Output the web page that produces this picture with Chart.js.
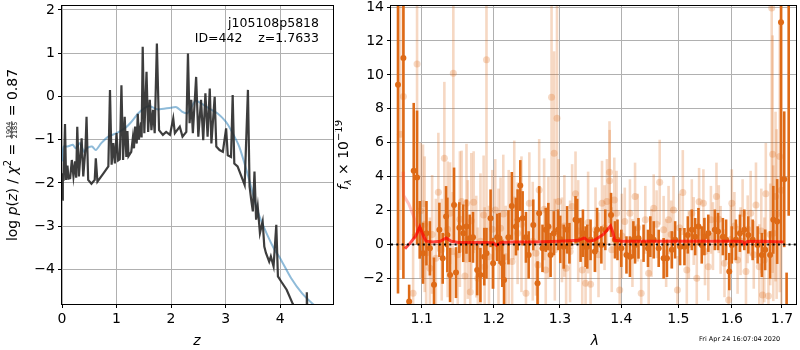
<!DOCTYPE html>
<html>
<head>
<meta charset="utf-8">
<script src="https://cdn.jsdelivr.net/npm/chart.js@4.4.1/dist/chart.umd.min.js"></script>
<style>
  body { margin: 0; background: #fff; }
  #wrap { position: relative; width: 800px; height: 350px; }
  .panel { position: absolute; top: 0; }
</style>
</head>
<body>
<div id="wrap">
  <canvas id="pz" class="panel" style="left:0" width="340" height="350"></canvas>
  <canvas id="spec" class="panel" style="left:335px" width="465" height="350"></canvas>
</div>
<script>
// ---- p(z) panel data ----
const zLine = [0.005,0.015,0.03,0.055,0.075,0.1,0.12,0.15,0.18,0.21,0.24,0.26,0.28,0.31,
  0.36,0.39,0.43,0.45,0.48,0.54,0.6,0.62,0.65,0.76,0.85,
  0.88,0.91,0.94,0.97,1.0,1.03,1.06,1.09,1.12,1.15, 1.18,1.2,1.22,1.27,1.3,1.32,1.34,1.37,1.39,1.41,1.45,1.46,1.48,1.51,1.55,1.58,1.61,
  1.64,1.67,1.7,1.74,1.78,1.85,1.91,1.98,2.04,2.07, 2.16,2.21,2.28,2.31,2.34,2.37,2.4,2.46,2.5,2.55,
  2.59,2.63,2.67,2.71,2.74,2.8,2.83,2.89,2.95,3.01, 3.04,3.1,3.13,3.16,3.22,3.29,3.35,3.41,3.44,3.47,
  3.5,3.53,3.56,3.59,3.63,3.68,3.71,3.74,3.8,3.83, 3.88,3.93,3.96,4.02,4.12,4.23,4.35,4.48,4.49,4.51, 4.7];
const logPz = [-2.39,-1.78,-1.95,-0.64,-1.93,-1.6,-1.9,-1.89,-1.47,-1.85,-1.5,-1.88,-0.7,-1.85,
  -0.97,-1.85,-1.2,-0.47,-1.93,-2.02,-1.93,-1.43,-1.97,-1.78,-1.62,
  0.15,-1.58,-1.08,-1.55,-0.85,-1.48,-1.45,0.26,-1.47,-0.47, -1.4,-0.8,-1.38,-1.28,-0.95,-1.2,-0.7,-1.09,-0.4,-1.0,-0.6,-0.95,1.15,-0.85,0.57,-0.82,-0.08,
  -0.78,-0.31,-0.85,1.22,-0.78,-0.89,-0.82,-0.89,-0.51,-0.85, -0.7,-0.93,-0.82,0.99,-0.62,-0.08,-0.85,0.45,-0.93,-0.08,
  -1.01,0.07,-0.93,0.18,-1.09,-0.01,-1.16,-1.24,-1.28,-0.74, -1.36,-1.4,0.03,-1.55,-1.62,-1.85,-2.05,0.15,-2.08,-2.39,
  -2.66,-1.74,-2.85,-2.55,-3.16,-2.89,-3.47,-3.62,-3.82,-3.7, -3.93,-2.97,-4.16,-4.28,-4.47,-4.79,-5.1,-5.4,-4.53,-5.5, -6.0];
const zSmooth = [0,0.03,0.1,0.2,0.25,0.33,0.4,0.45,0.55,0.62, 0.72,0.85,1.0,1.15,1.25,1.4,1.5,1.6,1.75,2.0,
  2.1,2.2,2.3,2.35,2.45,2.55,2.7,2.85,3.0,3.1, 3.25,3.4,3.5,3.6,3.75,3.9,4.0,4.2,4.4,4.6, 4.8];
const logPzSmooth = [-1.5,-1.16,-1.16,-1.12,-1.2,-1.08,-1.28,-1.2,-1.16,-1.24, -1.08,-0.93,-0.85,-0.74,-0.62,-0.39,-0.28,-0.22,-0.3,-0.26,
  -0.25,-0.35,-0.39,-0.3,-0.1,-0.16,-0.28,-0.39,-0.58,-0.78, -1.16,-1.78,-2.24,-2.7,-3.16,-3.55,-3.74,-4.2,-4.55,-4.8, -5.0];
const zTicks = [0, 1, 2, 3, 4];
const pzTicks = [-4, -3, -2, -1, 0, 1, 2];

// ---- spectrum panel data ----
const darkWl = [1.069,1.076,1.0835,1.0895,1.0939,1.0974,1.1018,1.1064,1.111,1.1165,
  1.1238,1.1283,1.1329,1.1347,1.1384,1.1439,1.1466,1.1512,1.1567,1.1612,
  1.1658,1.1704,1.1763,1.1809,1.1864,1.1896,1.1955,1.1992,1.205,1.2085,
  1.2126,1.2151,1.2216,1.2266,1.2327,1.2352,1.2392,1.2427,1.2477,1.2518,
  1.2588,1.2653,1.2678,1.2729,1.2779,1.2819,1.2854,1.2904,1.297,1.3005,
  1.3059,1.3113,1.315,1.3247,1.3274,1.3328,1.3366,1.3409,1.3436,1.349,
  1.356,1.3597,1.3667,1.3732,1.3828,1.3893,1.3936,1.40,1.4088,1.4147,
  1.4206,1.4235,1.4294,1.4382,1.4459,1.45,1.4559,1.4647,1.4735,1.4794,
  1.4882,1.4941,1.5031,1.511,1.5172,1.5245,1.5307,1.5368,1.5429,1.5478,
  1.5552,1.5675,1.5736,1.5828,1.589,1.5951,1.60,1.6079,1.6158,1.6243,
  1.6322,1.6408,1.6507,1.6592,1.6658,1.6757,1.6822,1.6901,1.698,1.7046,
  1.7095,1.7138];
const darkFlux = [9.42,10.99,-3.36,4.35,3.95,0.87,-0.51,0.67,-0.22,-2.36,
  0.87,-0.81,1.65,0.57,-1.79,2.34,-1.65,1.0,0.67,1.06,
  0.37,0.43,-1.49,-1.79,-0.71,-0.51,1.55,-1.1,0.43,0.37,
  -1.1,-2.08,0.43,2.28,1.06,1.46,3.48,1.55,0.43,-0.61,
  1.16,-2.28,1.85,-0.22,0.87,1.06,-0.61,0.67,0.87,0.31,
  -0.12,0.87,0.08,1.46,1.4,0.28,0.67,-0.12,-0.12,0.28,
  -0.41,0.87,-0.02,0.87,1.75,0.28,0.28,-0.22,-0.61,-0.71,
  0.28,-0.02,0.37,0.08,-0.22,0.47,0.28,-0.22,-0.81,-0.81,
  -0.31,0.28,-0.12,-0.12,0.57,0.87,0.47,1.06,-0.02,0.47,
  0.67,0.87,0.77,0.47,0.28,-1.59,-0.02,0.28,0.67,0.87,
  0.57,0.28,-0.02,-0.61,-0.31,-0.61,1.46,1.36,13.1,3.85,
  -4.5,16];
const darkErr = [12.3,13,1.0,4.0,3.95,1.7,1.8,1.9,1.6,1.6,
  1.6,1.5,1.8,2.2,1.6,2.2,1.5,1.5,1.7,1.6,
  1.4,1.5,1.5,1.6,1.7,1.5,1.7,1.5,1.4,1.5,
  1.4,1.5,1.6,2.0,1.7,1.8,1.5,1.6,1.5,1.4,
  1.5,1.3,1.6,1.4,1.3,1.4,1.3,1.3,1.2,1.4,
  1.3,1.4,1.2,1.4,1.3,1.3,1.4,1.2,1.3,1.2,
  1.2,1.3,1.1,1.2,1.3,1.1,1.2,1.1,1.1,1.2,
  1.1,1.1,1.2,1.1,1.1,1.2,1.1,1.1,1.2,1.1,
  1.1,1.1,1.1,1.1,1.1,1.2,1.1,1.1,1.1,1.1,
  1.1,1.2,1.1,1.1,1.2,1.1,1.1,1.2,1.1,1.2,
  1.1,1.2,1.1,1.3,1.2,1.4,2.0,2.5,13,4.0,
  2.85,14.3];

const lightWl = [1.072,1.076,1.0887,1.0939,1.0985,1.1018,1.106,1.111,1.1224,1.127,
  1.1306,1.1384,1.1429,1.149,1.1544,1.159,1.1612,1.1665,1.1713,1.175,
  1.1772,1.1855,1.1896,1.1932,1.2023,1.21,1.2176,1.2302,1.2352,1.2477,
  1.2528,1.2628,1.2678,1.2754,1.2779,1.2869,1.2909,1.2954,1.2979,1.3032,
  1.3097,1.3193,1.3247,1.3355,1.3409,1.349,1.3571,1.3678,1.3759,1.3802,
  1.3805,1.3882,1.392,1.3973,1.4059,1.4147,1.4235,1.4341,1.4412,1.4471,
  1.4559,1.4665,1.4735,1.4823,1.4912,1.4982,1.508,1.5153,1.5245,1.5337,
  1.538,1.546,1.5552,1.5601,1.5706,1.5785,1.5859,1.5939,1.60,1.6112,
  1.621,1.6276,1.6368,1.6474,1.654,1.6605,1.6671,1.6724,1.679,1.6809,
  1.6822,1.6868,1.6954,1.6985,
  1.104,1.114,1.119,1.135,1.142,1.152,1.163,1.168,1.181,1.187,
  1.198,1.207,1.214,1.222,1.227,1.241,1.258,1.266,1.282,1.292,
  1.307,1.316,1.329,1.345,1.362,1.372,1.384,1.401,1.419,1.428,
  1.452,1.461,1.478,1.487,1.502,1.519,1.528,1.549,1.564,1.575,
  1.598,1.605,1.617,1.631,1.643,1.658,1.664,1.676,1.689];
const lightFlux = [6.5,8.73,-2.87,10.64,2.0,2.4,-0.5,-1.4,3.09,-0.3,
  5.09,1.85,10.1,-0.6,2.54,-1.85,2.44,-2.8,2.5,-0.12,
  -1.99,1.75,10.9,-0.71,2.04,0.96,-0.71,2.63,0.67,-2.87,
  2.44,-0.51,3.22,2.08,-1.49,8.69,5.39,7.45,2.54,0.28,
  -1.4,2.24,2.99,-1.49,-2.28,-2.34,0.87,2.44,2.54,4.27,
  3.76,2.63,1.85,-2.67,1.36,1.85,2.83,-2.87,1.46,-1.69,
  2.14,3.68,0.87,1.46,2.04,-2.67,3.07,-1.49,1.85,-1.99,
  2.52,2.44,-1.3,1.46,2.83,0.28,-1.1,-3.26,2.44,-0.9,
  1.85,-1.59,1.85,2.34,-1.3,-2.97,2.99,-3.03,13.94,5.33,
  0.67,2.83,5.19,3.2,
  1.2,0.6,-0.8,0.9,-0.4,1.5,0.3,1.4,0.2,-1.3,
  0.9,-0.2,1.8,0.4,-1.0,1.2,0.2,-1.2,1.0,-0.3,
  1.1,-0.4,0.8,1.3,-0.6,1.0,-0.3,0.5,-0.5,1.0,
  0.1,1.2,-0.5,0.6,1.0,0.0,0.8,-0.4,0.5,1.5,
  0.3,1.1,0.2,0.9,-0.6,0.8,-0.9,0.6,1.8];
const lightErr = [8,9,3.5,9,4,3.5,3,3,3.5,3,
  4.5,3,10,3,3,3,3.5,3,3,3,
  3,3.5,10,3,3,3,3,3.5,3,3,
  3,2.5,3,3,2.5,9,6,7,2.5,2.5,
  2.5,2.5,2.5,2.5,2.5,2.5,2.5,2.5,2.5,3,
  3,2.5,2.5,2.5,2,2,2,2,2,2,
  2,2.5,2,2,2,2,2.5,2,2,2,
  2,2,2,2,2,2,2,2,2,2,
  2,2,2.5,2.5,2.5,2.5,3,3,14,7,
  4,5,8,11,
  4,3.5,3.5,4,3.5,4,3.5,4,4,3.5,
  3.5,3.5,3.5,4,3.5,4,3.5,3,3,3,
  3,3,3,3,2.5,2.5,2.5,2.5,2,2,
  2,2,2,2,2,2,2,2,2,2,
  2,2,2,2,2,2.5,2.5,3,5];

const modelWl = [1.078,1.085,1.092,1.0975,1.102,1.106,1.115,1.125,1.133,1.14,
  1.15,1.17,1.19,1.2,1.204,1.21,1.23,1.26,1.3,1.33,
  1.339,1.345,1.355,1.37,1.382,1.386,1.389,1.4,1.45,1.5,
  1.55,1.6,1.62,1.625,1.63,1.66,1.703];
const modelFlux = [-0.25,0.1,0.5,1.05,0.55,0.2,0.15,0.2,0.39,0.2,
  0.12,0.12,0.12,0.1,-0.05,0.12,0.15,0.15,0.2,0.25,
  0.39,0.2,0.25,0.6,1.1,0.7,0.25,0.2,0.2,0.2,
  0.2,0.2,0.18,0.05,0.18,0.2,0.15];
const pinkWl = [1.0755,1.0762,1.083,1.09,1.095,1.1,1.105];
const pinkFlux = [4.3,2.9,2.4,1.6,0.9,0.4,0.2];
const zeroWl = [1.06, 1.729];
const wlTicks = [1.1, 1.2, 1.3, 1.4, 1.5, 1.6, 1.7];
const fluxTicks = [-2, 0, 2, 4, 6, 8, 10, 12, 14];

// ---- shared styling ----
const FONT = "'DejaVu Sans', sans-serif";
const GRID = '#b0b0b0';
const ORANGE = 'rgb(222,106,22)';
const ORANGE_LIGHT = 'rgba(222,106,22,0.26)';

function minus(v) {
  return String(v).replace('-', '\u2212');
}

function pts(xs, ys) {
  return xs.map((x, i) => ({ x: x, y: ys[i] }));
}

function makeScale(type, min, max, tickList, fmt, fit) {
  return {
    type: type,
    min: min,
    max: max,
    afterBuildTicks: s => { s.ticks = tickList.map(v => ({ value: v })); },
    afterFit: s => {
      fit(s);
      // keep the plot area where matplotlib put it
      s.paddingTop = 0; s.paddingBottom = 0; s.paddingLeft = 0; s.paddingRight = 0;
    },
    grid: { color: GRID, lineWidth: 1, drawTicks: true, tickLength: 4, tickColor: '#000', tickWidth: 1 },
    border: { display: false },
    ticks: {
      color: '#000', font: { family: FONT, size: 14 }, padding: 3,
      maxRotation: 0, autoSkip: false, callback: fmt
    }
  };
}

// draw a run of text pieces (normal, italic, sub/superscript, fraction) centred on (cx, baseline)
function drawRich(ctx, parts, cx, base, rotate) {
  let total = 0;
  parts.forEach(p => {
    ctx.font = (p.italic ? 'italic ' : '') + (p.size || 14) + 'px ' + FONT;
    if (p.num) {
      p.w = Math.max(ctx.measureText(p.num).width, ctx.measureText(p.den).width) + 2;
    } else {
      p.w = ctx.measureText(p.t).width;
    }
    total += p.w;
  });
  ctx.save();
  ctx.translate(cx, base);
  if (rotate) ctx.rotate(-Math.PI / 2);
  ctx.fillStyle = '#000';
  ctx.textBaseline = 'alphabetic';
  let x = -total / 2;
  parts.forEach(p => {
    ctx.font = (p.italic ? 'italic ' : '') + (p.size || 14) + 'px ' + FONT;
    if (p.num) {
      ctx.textAlign = 'center';
      ctx.fillText(p.num, x + p.w / 2, -6.3);
      ctx.fillText(p.den, x + p.w / 2, 0.2);
      ctx.fillRect(x + 0.5, -5.6, p.w - 1, 0.8);
    } else {
      ctx.textAlign = 'left';
      ctx.fillText(p.t, x, p.dy || 0);
    }
    x += p.w;
  });
  ctx.restore();
}

const framePlugin = {
  id: 'frame',
  afterDatasetsDraw(chart) {
    const a = chart.chartArea;
    const ctx = chart.ctx;
    ctx.save();
    ctx.strokeStyle = '#000';
    ctx.lineWidth = 1;
    ctx.strokeRect(Math.round(a.left) - 0.5, Math.round(a.top) - 0.5,
      Math.round(a.right - a.left) + 1, Math.round(a.bottom - a.top) + 1);
    ctx.restore();
  }
};

// vertical error bars, drawn under each dataset's markers
const errorBarPlugin = {
  id: 'errorBars',
  beforeDatasetDraw(chart, args) {
    const ds = chart.data.datasets[args.index];
    if (!ds.errs) return;
    const xs = chart.scales.x, ys = chart.scales.y, a = chart.chartArea;
    const ctx = chart.ctx;
    ctx.save();
    ctx.beginPath();
    ctx.rect(a.left, a.top, a.right - a.left, a.bottom - a.top);
    ctx.clip();
    ctx.strokeStyle = ds.borderColor;
    ctx.lineWidth = 2.6;
    ds.data.forEach((p, i) => {
      const x = xs.getPixelForValue(p.x);
      ctx.beginPath();
      ctx.moveTo(x, ys.getPixelForValue(p.y - ds.errs[i]));
      ctx.lineTo(x, ys.getPixelForValue(p.y + ds.errs[i]));
      ctx.stroke();
    });
    ctx.restore();
  }
};

// ---- left: p(z) ----
new Chart(document.getElementById('pz'), {
  type: 'line',
  data: {
    datasets: [
      { data: pts(zLine, logPz), borderColor: 'rgba(40,40,40,0.9)', borderWidth: 2.2, pointRadius: 0, tension: 0 },
      { data: pts(zSmooth, logPzSmooth), borderColor: 'rgba(31,119,180,0.5)', borderWidth: 2, pointRadius: 0, tension: 0.25 }
    ]
  },
  options: {
    responsive: false,
    animation: false,
    layout: { padding: { top: 6, right: 7, left: 0, bottom: 0 } },
    plugins: { legend: { display: false }, tooltip: { enabled: false } },
    scales: {
      x: makeScale('linear', 0, 4.97, zTicks, v => minus(v), s => { s.height = 46; }),
      y: makeScale('linear', -4.8, 2.09, pzTicks, v => minus(v), s => { s.width = 62; })
    }
  },
  plugins: [framePlugin, {
    id: 'pzText',
    afterDraw(chart) {
      const ctx = chart.ctx;
      ctx.save();
      ctx.fillStyle = '#000';
      ctx.font = '12.5px ' + FONT;
      ctx.textAlign = 'right';
      ctx.fillText('j105108p5818', 319, 27);
      ctx.fillText('ID=442    z=1.7633', 319, 42);
      ctx.restore();
      drawRich(ctx, [
        { t: 'log ' }, { t: 'p', italic: true }, { t: '(' }, { t: 'z', italic: true }, { t: ') / ' },
        { t: '\u03c7', italic: true }, { t: '2', size: 10, dy: -6 }, { t: ' = ' },
        { num: '1904', den: '2185', size: 6.5 }, { t: ' = 0.87' }
      ], 17, 155, true);
      drawRich(ctx, [{ t: 'z', italic: true }], 197, 345, false);
    }
  }]
});

// ---- right: spectrum ----
new Chart(document.getElementById('spec'), {
  type: 'scatter',
  data: {
    datasets: [
      { data: pts(zeroWl, [0, 0]), showLine: true, borderColor: '#000', borderWidth: 2, borderDash: [2, 3.3],
        pointRadius: 0, order: 0 },
      { data: pts(modelWl, modelFlux), showLine: true, borderColor: 'rgba(255,0,0,0.7)', borderWidth: 3,
        pointRadius: 0, order: 1 },
      { data: pts(pinkWl, pinkFlux), showLine: true, borderColor: 'rgba(255,60,60,0.3)', borderWidth: 3,
        pointRadius: 0, order: 2 },
      { data: pts(darkWl, darkFlux), errs: darkErr, borderColor: ORANGE, backgroundColor: ORANGE,
        pointRadius: 3, pointBorderWidth: 0, order: 3 },
      { data: pts(lightWl, lightFlux), errs: lightErr, borderColor: ORANGE_LIGHT, backgroundColor: ORANGE_LIGHT,
        pointRadius: 3.5, pointBorderWidth: 0, order: 4 }
    ]
  },
  options: {
    responsive: false,
    animation: false,
    layout: { padding: { top: 6, right: 1, left: 0, bottom: 0 } },
    plugins: { legend: { display: false }, tooltip: { enabled: false } },
    scales: {
      x: makeScale('logarithmic', 1.06, 1.729, wlTicks, v => Number(v).toFixed(1), s => { s.height = 46; }),
      y: makeScale('linear', -3.5, 14.06, fluxTicks, v => minus(v), s => { s.width = 56; })
    }
  },
  plugins: [errorBarPlugin, framePlugin, {
    id: 'specText',
    afterDraw(chart) {
      const ctx = chart.ctx;
      drawRich(ctx, [
        { t: 'f', italic: true }, { t: '\u03bb', italic: true, size: 9.5, dy: 3 }, { t: ' \u00d7 10' },
        { t: '\u221219', size: 10, dy: -6 }
      ], 13, 155, true);
      drawRich(ctx, [{ t: '\u03bb', italic: true }], 260, 345, false);
      ctx.save();
      ctx.fillStyle = '#000';
      ctx.font = '6.5px ' + FONT;
      ctx.textAlign = 'left';
      ctx.fillText('Fri Apr 24 16:07:04 2020', 364, 341);
      ctx.restore();
    }
  }]
});
</script>
</body>
</html>
